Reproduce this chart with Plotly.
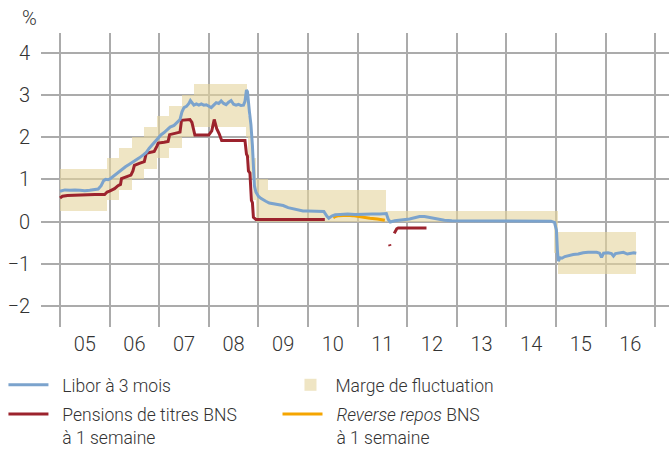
import plotly.graph_objects as go

# ---- data (decimal years) ----
libor_t = [2005.00, 2005.10, 2005.20, 2005.30, 2005.40, 2005.50, 2005.60, 2005.70, 2005.77, 2005.83,
           2005.88, 2005.92, 2005.97, 2006.02, 2006.08, 2006.14, 2006.20, 2006.26, 2006.32, 2006.40,
           2006.46, 2006.52, 2006.60, 2006.68, 2006.74, 2006.80, 2006.86, 2006.92, 2006.98, 2007.04,
           2007.10, 2007.16, 2007.22, 2007.30, 2007.36, 2007.42, 2007.46, 2007.50, 2007.55, 2007.60,
           2007.63, 2007.66, 2007.70, 2007.75, 2007.80, 2007.85, 2007.90, 2007.95, 2008.00, 2008.05,
           2008.10, 2008.15, 2008.20, 2008.25, 2008.30, 2008.35, 2008.40, 2008.45, 2008.50, 2008.55,
           2008.60, 2008.65, 2008.70, 2008.73, 2008.76, 2008.78, 2008.82, 2008.85, 2008.88, 2008.90,
           2008.92, 2008.95, 2009.00, 2009.05, 2009.10, 2009.15, 2009.22, 2009.30, 2009.40, 2009.50,
           2009.60, 2009.70, 2009.80, 2009.90, 2010.00, 2010.10, 2010.20, 2010.32, 2010.38, 2010.42,
           2010.48, 2010.55, 2010.65, 2010.80, 2010.95, 2011.10, 2011.30, 2011.45, 2011.58, 2011.62,
           2011.66, 2011.75, 2011.85, 2011.95, 2012.05, 2012.15, 2012.25, 2012.35, 2012.45, 2012.55,
           2012.65, 2012.75, 2012.90, 2013.05, 2013.30, 2013.50, 2013.70, 2013.90, 2014.10, 2014.30,
           2014.50, 2014.70, 2014.90, 2014.97, 2015.01, 2015.03, 2015.05, 2015.08, 2015.12, 2015.18,
           2015.25, 2015.35, 2015.45, 2015.55, 2015.65, 2015.75, 2015.82, 2015.88, 2015.92, 2015.96,
           2016.05, 2016.12, 2016.16, 2016.20, 2016.28, 2016.36, 2016.44, 2016.50, 2016.57, 2016.62]
libor_v = [0.72, 0.75, 0.74, 0.75, 0.74, 0.73, 0.74, 0.76, 0.77, 0.85,
           0.97, 1.00, 0.99, 1.02, 1.08, 1.13, 1.18, 1.25, 1.30, 1.36,
           1.40, 1.44, 1.51, 1.58, 1.64, 1.74, 1.82, 1.88, 1.96, 2.06,
           2.11, 2.17, 2.24, 2.28, 2.35, 2.42, 2.60, 2.70, 2.73, 2.80,
           2.87, 2.82, 2.76, 2.79, 2.76, 2.79, 2.76, 2.77, 2.74, 2.70,
           2.76, 2.82, 2.80, 2.86, 2.80, 2.77, 2.83, 2.87, 2.78, 2.76,
           2.78, 2.75, 2.76, 2.85, 3.12, 3.08, 2.60, 2.30, 1.80, 1.30,
           0.85, 0.70, 0.60, 0.55, 0.51, 0.48, 0.44, 0.42, 0.41, 0.38,
           0.33, 0.30, 0.27, 0.25, 0.25, 0.25, 0.24, 0.24, 0.13, 0.08,
           0.13, 0.16, 0.17, 0.18, 0.17, 0.18, 0.18, 0.18, 0.19, 0.05,
           -0.01, 0.02, 0.03, 0.05, 0.06, 0.09, 0.12, 0.12, 0.10, 0.07,
           0.05, 0.03, 0.02, 0.02, 0.02, 0.02, 0.02, 0.02, 0.02, 0.02,
           0.01, 0.02, 0.01, -0.02, -0.20, -0.70, -0.94, -0.86, -0.87, -0.83,
           -0.81, -0.78, -0.77, -0.74, -0.73, -0.72, -0.73, -0.75, -0.85, -0.75,
           -0.74, -0.76, -0.82, -0.76, -0.75, -0.73, -0.77, -0.75, -0.74, -0.75]

repo_t = [2005.00, 2005.05, 2005.15, 2005.30, 2005.50, 2005.70, 2005.90, 2005.95, 2006.00, 2006.10,
          2006.17, 2006.22, 2006.24, 2006.35, 2006.43, 2006.47, 2006.50, 2006.60, 2006.70, 2006.74,
          2006.90, 2006.96, 2006.98, 2007.10, 2007.18, 2007.21, 2007.35, 2007.42, 2007.45, 2007.62,
          2007.66, 2007.70, 2007.72, 2008.00, 2008.06, 2008.11, 2008.16, 2008.21, 2008.26, 2008.73,
          2008.76, 2008.78, 2008.80, 2008.83, 2008.84, 2008.86, 2008.88, 2008.90, 2008.95, 2010.34,
          None, 2011.645, 2011.655, None, 2011.74, 2011.76, 2011.79, 2011.82, 2012.39]
repo_v = [0.56, 0.60, 0.62, 0.63, 0.63, 0.64, 0.64, 0.70, 0.72, 0.78,
          0.85, 0.88, 1.02, 1.06, 1.10, 1.20, 1.33, 1.38, 1.42, 1.62,
          1.66, 1.80, 1.86, 1.88, 1.90, 2.06, 2.10, 2.12, 2.40, 2.42,
          2.35, 2.10, 2.05, 2.05, 2.15, 2.42, 2.20, 2.08, 1.92, 1.92,
          1.60, 1.55, 1.20, 1.15, 1.00, 0.50, 0.45, 0.10, 0.05, 0.05,
          None, -0.54, -0.58, None, -0.28, -0.22, -0.17, -0.15, -0.15]

rrepo_t = [2010.51, 2010.55, 2010.62, 2010.70, 2010.80, 2010.90, 2011.00, 2011.10, 2011.25, 2011.40, 2011.55]
rrepo_v = [0.09, 0.12, 0.14, 0.15, 0.15, 0.14, 0.12, 0.10, 0.08, 0.06, 0.03]

band_start = [2005.00, 2005.95, 2006.19, 2006.45, 2006.69, 2006.95, 2007.20, 2007.45, 2007.70,
              2008.77, 2008.80, 2008.85, 2008.89, 2008.95, 2009.20, 2011.58, 2014.96, 2015.04]
band_end = [2005.95, 2006.19, 2006.45, 2006.69, 2006.95, 2007.20, 2007.45, 2007.70, 2008.77,
            2008.80, 2008.85, 2008.89, 2008.95, 2009.20, 2011.58, 2014.96, 2015.04, 2016.62]
band_low = [0.25, 0.5, 0.75, 1.0, 1.25, 1.5, 1.75, 2.0, 2.25,
            2.0, 1.5, 1.0, 0.5, 0.0, 0.0, 0.0, -0.75, -1.25]
band_high = [1.25, 1.5, 1.75, 2.0, 2.25, 2.5, 2.75, 3.0, 3.25,
             3.0, 2.5, 2.0, 1.5, 1.0, 0.75, 0.25, 0.25, -0.25]

year_starts = list(range(2005, 2018))
year_labels = ["05", "06", "07", "08", "09", "10", "11", "12", "13", "14", "15", "16"]
year_mids = [y + 0.5 for y in range(2005, 2017)]
y_ticks = [-2, -1, 0, 1, 2, 3, 4]
y_labels = ["\u22122", "\u22121", "0", "1", "2", "3", "4"]

FONT = "Roboto"
TXT = "#333333"
GRID = "#ABABAB"
W = 300
PAD = "\u2002"   # gap between legend line sample and its text

fig = go.Figure()

fig.add_trace(go.Bar(
    x=[(a + b) / 2 for a, b in zip(band_start, band_end)],
    y=[h - l for l, h in zip(band_low, band_high)],
    base=band_low,
    width=[b - a for a, b in zip(band_start, band_end)],
    marker=dict(color="rgb(230,213,157)", line=dict(width=0)),
    opacity=0.6,
    name="Marge de fluctuation",
    legend="legend2",
    hoverinfo="skip",
))
fig.add_trace(go.Scatter(x=repo_t, y=repo_v, mode="lines",
                         line=dict(color="#9C232D", width=3),
                         name=PAD + "Pensions de titres BNS<br>" + PAD + "à 1 semaine",
                         legend="legend3", connectgaps=False))
fig.add_trace(go.Scatter(x=rrepo_t, y=rrepo_v, mode="lines",
                         line=dict(color="#F5A500", width=3),
                         name=PAD + "<i>Reverse repos</i> BNS<br>" + PAD + "à 1 semaine",
                         legend="legend4"))
fig.add_trace(go.Scatter(x=libor_t, y=libor_v, mode="lines",
                         line=dict(color="#7BA3CD", width=3),
                         name=PAD + "Libor à 3 mois", legend="legend"))

leg_common = dict(orientation="v", xanchor="left",
                  valign="top", font=dict(size=17.5, family=FONT, color=TXT, weight=W),
                  bgcolor="rgba(0,0,0,0)", itemwidth=40)

fig.update_layout(
    width=669, height=451,
    margin=dict(l=41, r=0, t=33, b=124, autoexpand=False),
    paper_bgcolor="white", plot_bgcolor="white",
    font=dict(family=FONT, color=TXT, size=18, weight=W),
    bargap=0,
    xaxis=dict(range=[2004.617, 2017.28], showgrid=False, zeroline=False, showline=False,
               tickmode="array", tickvals=year_mids, ticktext=year_labels,
               tickfont=dict(size=20, family=FONT, color=TXT, weight=W), ticks="", ticklabelstandoff=3,
               automargin=False,
               minor=dict(tickmode="array", tickvals=year_starts, showgrid=True,
                          gridcolor=GRID, gridwidth=1.5, ticks="")),
    yaxis=dict(range=[-2.5, 4.47], showgrid=True, gridcolor=GRID, gridwidth=1.5,
               zeroline=False, showline=False, automargin=False,
               tickmode="array", tickvals=y_ticks, ticktext=y_labels,
               tickfont=dict(size=20, family=FONT, color=TXT, weight=W), ticks="", ticklabelstandoff=10),
    legend=dict(leg_common, x=-0.0598, y=-0.197, yanchor="middle"),
    legend2=dict(leg_common, x=0.3893, y=-0.197, yanchor="middle"),
    legend3=dict(leg_common, x=-0.0598, y=-0.235, yanchor="top"),
    legend4=dict(leg_common, x=0.3766, y=-0.235, yanchor="top"),
    annotations=[dict(text="%", xref="paper", yref="paper", x=-0.019, y=1.051,
                      xanchor="center", yanchor="middle", showarrow=False,
                      font=dict(size=20, family=FONT, color=TXT, weight=W))],
    showlegend=True,
)

fig.write_html("out.html", config={"displayModeBar": False},
               post_script="document.body.style.margin='0';document.body.style.padding='0';")
